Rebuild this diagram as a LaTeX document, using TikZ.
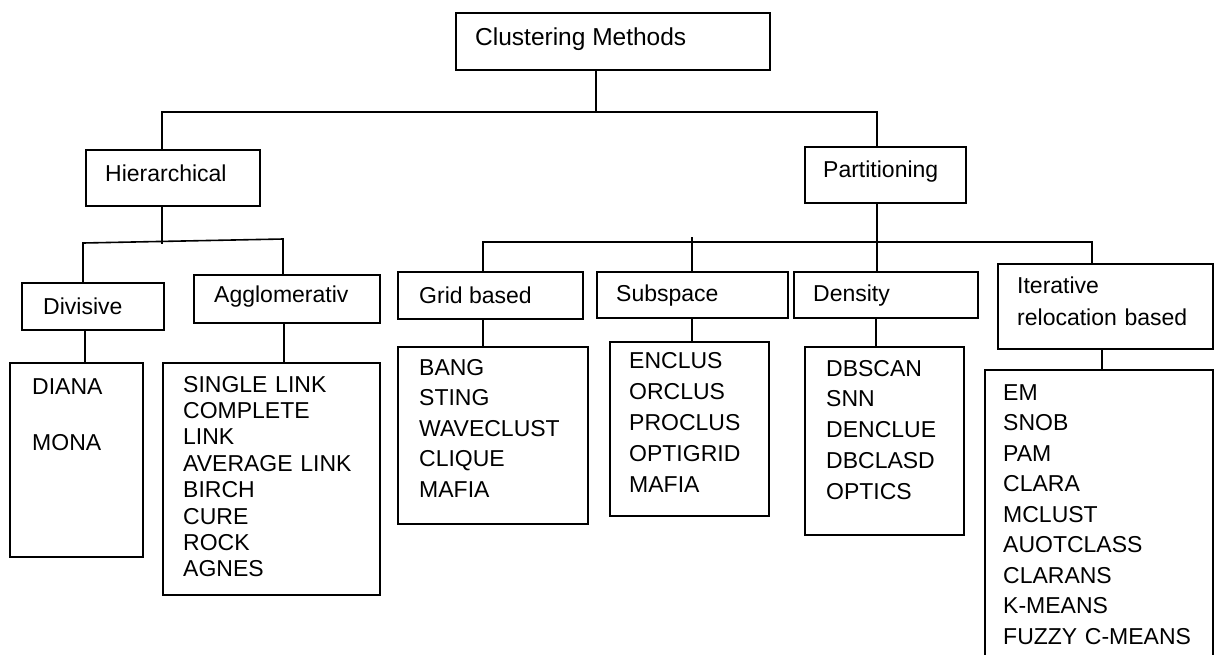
\documentclass[tikz,border=0pt]{standalone}
\usepackage{fontspec}
\setmainfont{Liberation Sans}
\begin{document}
\begin{tikzpicture}[x=1pt,y=-1pt,
  box/.style={draw, line width=1.6pt, inner sep=0pt, anchor=north west},
  lbl/.style={anchor=base west, inner sep=0pt, font=\fontsize{23}{28}\selectfont},
  lst/.style={anchor=base west, inner sep=0pt, text width=220pt, align=left},
  conn/.style={line width=1.6pt}]
\useasboundingbox (0,0) rectangle (1216,654);
\clip (0,0) rectangle (1216,654);
% boxes
\node[box, minimum width=314pt, minimum height=57pt] (cm) at (455,12) {};
\node[box, minimum width=174pt, minimum height=56pt] (hier) at (85,149) {};
\node[box, minimum width=161pt, minimum height=56pt] (part) at (804,146) {};
\node[box, minimum width=142pt, minimum height=47pt] (div) at (21,282) {};
\node[box, minimum width=186pt, minimum height=48pt] (agg) at (193,274) {};
\node[box, minimum width=185pt, minimum height=47pt] (grid) at (397,271) {};
\node[box, minimum width=191pt, minimum height=46pt] (sub) at (596,271) {};
\node[box, minimum width=184pt, minimum height=46pt] (den) at (793,271) {};
\node[box, minimum width=215pt, minimum height=85pt] (iter) at (997,263) {};
\node[box, minimum width=133pt, minimum height=194pt] (diana) at (9,362) {};
\node[box, minimum width=217pt, minimum height=232pt] (agglist) at (162,362) {};
\node[box, minimum width=190pt, minimum height=177pt] (gridlist) at (397,346) {};
\node[box, minimum width=159pt, minimum height=174pt] (sublist) at (609,341) {};
\node[box, minimum width=159pt, minimum height=188pt] (denlist) at (804,346) {};
\node[box, minimum width=228pt, minimum height=300pt] (iterlist) at (984,369) {};
% labels
\node[lbl, font=\fontsize{24.5}{28}\selectfont] (tcm) at (475,45) {Clustering Methods};
\node[lbl] (thier) at (105,181) {Hierarchical};
\node[lbl] (tpart) at (823,177) {Partitioning};
\node[lbl] (tdiv) at (43,314) {Divisive};
\node[lbl] (tagg) at (214,302) {Agglomerativ};
\node[lbl] (tgrid) at (419,303) {Grid based};
\node[lbl] (tsub) at (616,301) {Subspace};
\node[lbl] (tden) at (813,301) {Density};
\node[lst, font=\fontsize{23}{32}\selectfont] (titer) at (1017,293) {Iterative\\relocation based};
\node[lst, font=\fontsize{23}{56}\selectfont] (tdiana) at (32,394) {DIANA\\MONA};
\node[lst, font=\fontsize{23}{26.4}\selectfont] (tagglist) at (183,392) {SINGLE LINK\\COMPLETE\\LINK\\AVERAGE LINK\\BIRCH\\CURE\\ROCK\\AGNES};
\node[lst, font=\fontsize{23}{30.5}\selectfont] (tgridlist) at (419,375) {BANG\\STING\\WAVECLUST\\CLIQUE\\MAFIA};
\node[lst, font=\fontsize{23}{31}\selectfont] (tsublist) at (629,368) {ENCLUS\\ORCLUS\\PROCLUS\\OPTIGRID\\MAFIA};
\node[lst, font=\fontsize{23}{30.75}\selectfont] (tdenlist) at (826,376) {DBSCAN\\SNN\\DENCLUE\\DBCLASD\\OPTICS};
\node[lst, font=\fontsize{23}{30.5}\selectfont] (titerlist) at (1003,400) {EM\\SNOB\\PAM\\CLARA\\MCLUST\\AUOTCLASS\\CLARANS\\K-MEANS\\FUZZY C-MEANS};
% connectors
\coordinate (j0) at (596,112);
\coordinate (jL) at (162,112);
\coordinate (jR) at (877,112);
\draw[conn] (cm.south -| j0) -- (j0);
\draw[conn] (jL |- hier.north) -- (jL) -- (jR) -- (jR |- part.north);
\coordinate (h0) at (162,244);
\coordinate (hL) at (83,243);
\coordinate (hR) at (283,239);
\draw[conn] (h0 |- hier.south) -- (h0);
\draw[conn] (hL |- div.north) -- (hL) -- (hR) -- (hR |- agg.north);
\coordinate (xd) at (85,0);
\coordinate (xa) at (284,0);
\draw[conn] (xd |- div.south) -- (xd |- diana.north);
\draw[conn] (xa |- agg.south) -- (xa |- agglist.north);
\coordinate (p0) at (877,242);
\coordinate (pL) at (483,242);
\coordinate (pR) at (1092,242);
\coordinate (pS) at (692,237);
\draw[conn] (p0 |- part.south) -- (p0 |- den.north);
\draw[conn] (pL |- grid.north) -- (pL) -- (pR) -- (pR |- iter.north);
\draw[conn] (pS) -- (pS |- sub.north);
\coordinate (xg) at (483,0);
\coordinate (xs) at (692,0);
\coordinate (xn) at (876,0);
\coordinate (xi) at (1102,0);
\draw[conn] (xg |- grid.south) -- (xg |- gridlist.north);
\draw[conn] (xs |- sub.south) -- (xs |- sublist.north);
\draw[conn] (xn |- den.south) -- (xn |- denlist.north);
\draw[conn] (xi |- iter.south) -- (xi |- iterlist.north);
\end{tikzpicture}
\end{document}
